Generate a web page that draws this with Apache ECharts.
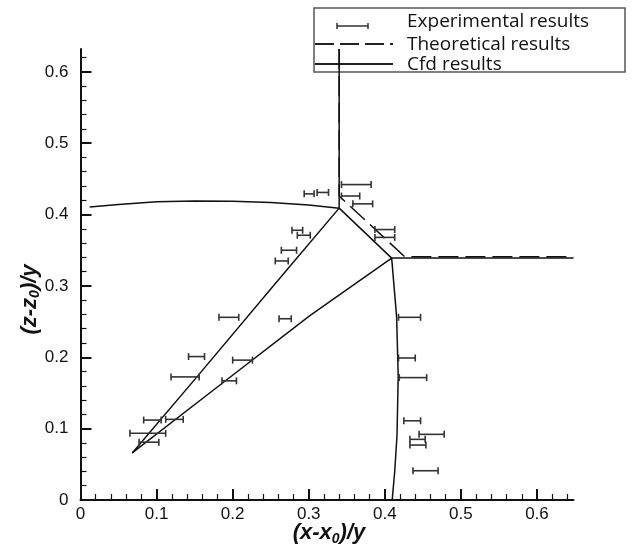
<!DOCTYPE html>
<html>
<head>
<meta charset="utf-8">
<script src="https://cdn.jsdelivr.net/npm/echarts@6/dist/echarts.min.js"></script>
<style>
  html, body { margin: 0; padding: 0; background: #fff; }
  #chart { width: 633px; height: 554px; }
</style>
</head>
<body>
<div id="chart"></div>
<script>
// tick labels
var xMajorTicks = [0, 0.1, 0.2, 0.3, 0.4, 0.5, 0.6];
var yMajorTicks = [0, 0.1, 0.2, 0.3, 0.4, 0.5, 0.6];
var xMinorTicks = [];
var yMinorTicks = [];
for (var i = 1; i <= 32; i++) {
    if (i % 5 !== 0) {
        var v = +(i * 0.02).toFixed(2);
        if (v < 0.648) xMinorTicks.push(v);
        if (v < 0.632) yMinorTicks.push(v);
    }
}

// experimental results: horizontal error bars
var expY    = [0.442, 0.429, 0.431, 0.426, 0.415, 0.379, 0.368, 0.378, 0.371, 0.350, 0.335,
               0.256, 0.254, 0.201, 0.196, 0.1725, 0.167, 0.112, 0.113, 0.0935, 0.081,
               0.256, 0.199, 0.1715, 0.111, 0.092, 0.085, 0.077, 0.041];
var expLow  = [0.343, 0.294, 0.311, 0.343, 0.358, 0.387, 0.387, 0.278, 0.285, 0.264, 0.256,
               0.182, 0.261, 0.142, 0.200, 0.119, 0.186, 0.083, 0.112, 0.065, 0.077,
               0.418, 0.418, 0.419, 0.425, 0.445, 0.433, 0.433, 0.437];
var expHigh = [0.382, 0.307, 0.326, 0.367, 0.384, 0.413, 0.413, 0.292, 0.302, 0.284, 0.273,
               0.208, 0.277, 0.163, 0.226, 0.156, 0.205, 0.106, 0.135, 0.112, 0.103,
               0.447, 0.440, 0.455, 0.447, 0.478, 0.453, 0.454, 0.470];

// theoretical results
var theory = [[0.34, 0.632], [0.34, 0.426], [0.426, 0.341], [0.648, 0.341]];

// cfd results
var cfdVertical   = [[0.34, 0.632], [0.34, 0.409]];
var cfdArc        = [[0.012, 0.4105], [0.05, 0.414], [0.1, 0.418], [0.15, 0.419], [0.2, 0.4185],
                     [0.25, 0.417], [0.3, 0.4135], [0.34, 0.409]];
var cfdUpperRay   = [[0.34, 0.409], [0.255, 0.302], [0.155, 0.175], [0.068, 0.066]];
var cfdLowerRay   = [[0.068, 0.066], [0.188, 0.165], [0.301, 0.258], [0.409, 0.339]];
var cfdDiagonal   = [[0.34, 0.409], [0.409, 0.339]];
var cfdHorizontal = [[0.409, 0.339], [0.648, 0.339]];
var cfdRightArc   = [[0.409, 0.339], [0.4155, 0.257], [0.4176, 0.173], [0.416, 0.09], [0.413, 0.04],
                     [0.4097, 0.0]];

var expData = expY.map(function (y, i) { return [expLow[i], expHigh[i], y]; });

function cfdLine(data) {
    return {
        type: 'line', data: data, symbol: 'none', silent: true,
        lineStyle: { color: '#111', width: 1.5 }, z: 3
    };
}

var axisFont = { fontFamily: 'Liberation Sans', fontSize: 17, color: '#111' };
function nameStyle(pad) {
    return {
        fontFamily: 'Liberation Sans', fontSize: 22, fontWeight: 'bold', fontStyle: 'italic', color: '#111',
        padding: pad,
        rich: {
            s: { fontFamily: 'Liberation Sans', fontSize: 14, fontWeight: 'bold', fontStyle: 'italic',
                 color: '#111', verticalAlign: 'bottom', padding: [12, 0, 0, 0] }
        }
    };
}

var option = {
    backgroundColor: '#fff',
    animation: false,
    grid: { left: 80.5, right: 59.5, top: 49, bottom: 54, outerBoundsMode: 'none' },
    xAxis: [{
        type: 'value', min: 0, max: 0.648,
        name: '(x-x{s|0})/y', nameLocation: 'middle', nameGap: 20, nameMoveOverlap: false,
        nameTextStyle: nameStyle([0, 0, 0, 4]),
        axisLine: { lineStyle: { color: '#111', width: 2 } },
        axisTick: { show: true, inside: true, length: 11, customValues: xMajorTicks, lineStyle: { color: '#111', width: 2 } },
        axisLabel: Object.assign({ customValues: xMajorTicks, margin: 6 }, axisFont),
        splitLine: { show: false }
    }, {
        type: 'value', min: 0, max: 0.648, position: 'bottom',
        axisLine: { show: false },
        axisTick: { show: true, inside: true, length: 6, customValues: xMinorTicks, lineStyle: { color: '#111', width: 1.2 } },
        axisLabel: { show: false },
        splitLine: { show: false }
    }],
    yAxis: [{
        type: 'value', min: 0, max: 0.632,
        name: '(z-z{s|0})/y', nameLocation: 'middle', nameGap: 38, nameRotate: 90, nameMoveOverlap: false,
        nameTextStyle: nameStyle([0, 50, 0, 0]),
        axisLine: { lineStyle: { color: '#111', width: 2 } },
        axisTick: { show: true, inside: true, length: 11, customValues: yMajorTicks, lineStyle: { color: '#111', width: 2 } },
        axisLabel: Object.assign({ customValues: yMajorTicks, margin: 12 }, axisFont),
        splitLine: { show: false }
    }, {
        type: 'value', min: 0, max: 0.632, position: 'left',
        axisLine: { show: false },
        axisTick: { show: true, inside: true, length: 6, customValues: yMinorTicks, lineStyle: { color: '#111', width: 1.2 } },
        axisLabel: { show: false },
        splitLine: { show: false }
    }],
    series: [
        {
            type: 'custom', name: 'Experimental results', data: expData, z: 4,
            renderItem: function (params, api) {
                var a = api.coord([api.value(0), api.value(2)]);
                var b = api.coord([api.value(1), api.value(2)]);
                var st = { stroke: '#333', lineWidth: 1.6 };
                return {
                    type: 'group',
                    children: [
                        { type: 'line', shape: { x1: a[0], y1: a[1], x2: b[0], y2: b[1] }, style: st },
                        { type: 'line', shape: { x1: a[0], y1: a[1] - 3.5, x2: a[0], y2: a[1] + 3.5 }, style: st },
                        { type: 'line', shape: { x1: b[0], y1: b[1] - 3.5, x2: b[0], y2: b[1] + 3.5 }, style: st }
                    ]
                };
            }
        },
        {
            type: 'line', name: 'Theoretical results', data: theory, symbol: 'none', silent: true, z: 3,
            lineStyle: { color: '#111', width: 1.5, type: [20, 7] }
        },
        cfdLine(cfdVertical),
        cfdLine(cfdArc),
        cfdLine(cfdUpperRay),
        cfdLine(cfdLowerRay),
        cfdLine(cfdDiagonal),
        cfdLine(cfdHorizontal),
        cfdLine(cfdRightArc)
    ],
    graphic: [{
        type: 'group', z: 100,
        children: [
            { type: 'rect', shape: { x: 314, y: 8, width: 311, height: 64 },
              style: { fill: '#fff', stroke: '#555', lineWidth: 1.5 } },
            { type: 'line', shape: { x1: 337, y1: 26, x2: 368, y2: 26 }, style: { stroke: '#333', lineWidth: 1.5 } },
            { type: 'line', shape: { x1: 337, y1: 23, x2: 337, y2: 29 }, style: { stroke: '#333', lineWidth: 1.5 } },
            { type: 'line', shape: { x1: 368, y1: 23, x2: 368, y2: 29 }, style: { stroke: '#333', lineWidth: 1.5 } },
            { type: 'line', shape: { x1: 315, y1: 44, x2: 393, y2: 44 },
              style: { stroke: '#222', lineWidth: 1.8, lineDash: [19, 6] } },
            { type: 'line', shape: { x1: 315, y1: 64, x2: 393, y2: 64 }, style: { stroke: '#222', lineWidth: 1.8 } },
            { type: 'text', x: 407, y: 22, style: { text: 'Experimental results', fill: '#111',
              font: '19px "Open Sans"', verticalAlign: 'middle' } },
            { type: 'text', x: 407, y: 45, style: { text: 'Theoretical results', fill: '#111',
              font: '19px "Open Sans"', verticalAlign: 'middle' } },
            { type: 'text', x: 407, y: 65, style: { text: 'Cfd results', fill: '#111',
              font: '19px "Open Sans"', verticalAlign: 'middle' } }
        ]
    }]
};

var myChart = echarts.init(document.getElementById('chart'));
myChart.setOption(option);
</script>
</body>
</html>
